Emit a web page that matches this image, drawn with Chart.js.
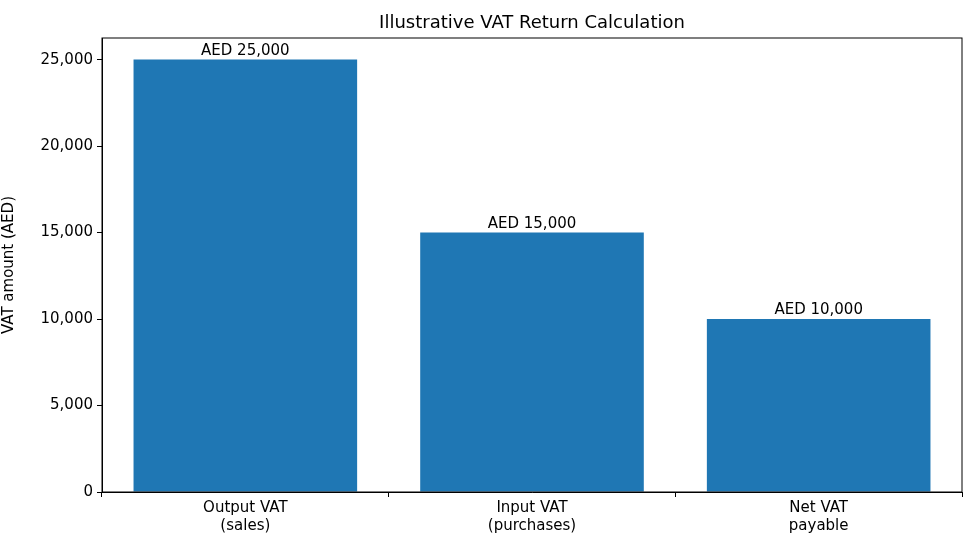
<!DOCTYPE html><html><head><script src="https://cdn.jsdelivr.net/npm/chart.js@4"></script>
<style>body{margin:0;background:#fff}#w{width:975px;height:552px}</style></head><body><div id="w"><canvas id="c"></canvas></div>
<script>
const categories=[["Output VAT","(sales)"],["Input VAT","(purchases)"],["Net VAT","payable"]];
const values=[25000,15000,10000];
const valueLabels=["AED 25,000","AED 15,000","AED 10,000"];
const yTicks=[0,5000,10000,15000,20000,25000];
const F="DejaVu Sans";
const deco={id:'deco',afterDraw(ch){const c=ch.ctx,a=ch.chartArea;c.save();
c.strokeStyle='#000';c.lineWidth=1;c.strokeRect(a.left,a.top,a.right-a.left,a.bottom-a.top);
c.fillStyle='#000';c.textAlign='center';c.textBaseline='alphabetic';c.font='18px "'+F+'"';
c.fillText("Illustrative VAT Return Calculation",(a.left+a.right)/2,28);
c.font='15px "'+F+'"';const m=ch.getDatasetMeta(0);
m.data.forEach((b,i)=>c.fillText(valueLabels[i],b.x,b.y-5));c.restore();}};
new Chart(document.getElementById('c'),{type:'bar',
data:{labels:categories,datasets:[{data:values,backgroundColor:'#1f77b4',barPercentage:0.78,categoryPercentage:1}]},
options:{responsive:true,maintainAspectRatio:false,animation:false,
layout:{padding:{top:38,right:13,left:0,bottom:0}},
plugins:{legend:{display:false},tooltip:{enabled:false}},
scales:{x:{grid:{drawOnChartArea:false,tickLength:5,color:'#000'},border:{color:'#000'},
ticks:{color:'#000',font:{family:F,size:15},padding:2},afterFit(s){s.height=60;}},
y:{min:0,max:26250,grid:{drawOnChartArea:false,tickLength:5,color:'#000'},border:{color:'#000'},
afterBuildTicks(s){s.ticks=yTicks.map(v=>({value:v}));},
ticks:{color:'#000',font:{family:F,size:15},padding:4},
title:{display:true,text:'VAT amount (AED)',color:'#000',font:{family:F,size:15},padding:{top:0,bottom:4}},
afterFit(s){s.width=102;}}}},plugins:[deco]});
</script></body></html>
